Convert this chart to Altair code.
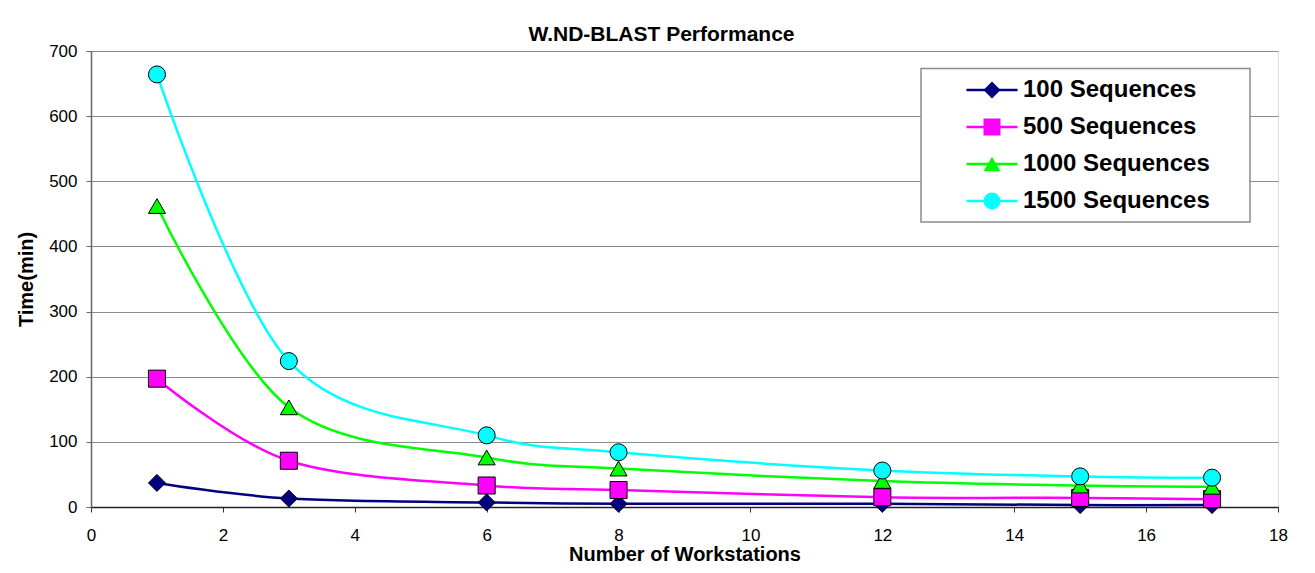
import altair as alt
import pandas as pd

# ---- data ----
workstations = [1, 3, 6, 8, 12, 15, 17]
seq100 = [37, 13, 7, 5, 5, 3, 3]
seq500 = [197, 71, 33, 26, 15, 14, 12]
seq1000 = [462, 153, 76, 59, 40, 33, 31]
seq1500 = [664, 224, 110, 84, 56, 47, 45]
series_names = ["100 Sequences", "500 Sequences", "1000 Sequences", "1500 Sequences"]
series_colors = ["#000080", "#FF00FF", "#00FF00", "#00FFFF"]
series_shapes = ["diamond", "square", "triangle-up", "circle"]
x_ticks = [0, 2, 4, 6, 8, 10, 12, 14, 16, 18]
y_ticks = [0, 100, 200, 300, 400, 500, 600, 700]
chart_title = "W.ND-BLAST Performance"

rows = []
for idx, (name, vals) in enumerate(zip(series_names, [seq100, seq500, seq1000, seq1500])):
    for w, v in zip(workstations, vals):
        rows.append({"Workstations": w, "Time": v, "Series": name, "SeriesIdx": idx})
df = pd.DataFrame(rows)
series_idx = list(range(len(series_names)))

FONT = "Liberation Sans"
W, H = 1187, 456
LX, LY = 889, 27
ROWPAD = 13
LABEL_OFF = 19

x_enc = alt.X(
    "Workstations:Q",
    scale=alt.Scale(domain=[0, 18], nice=False),
    axis=alt.Axis(values=x_ticks, title="Number of Workstations", grid=False,
                  labelFont=FONT, labelFontSize=17, labelColor="black", labelPadding=15,
                  tickSize=5, tickColor="#333333", domainColor="#222222", domainWidth=1.5,
                  titleFont=FONT, titleFontSize=20, titleFontWeight="bold", titleColor="black",
                  titlePadding=1, labelFlush=False),
)
y_enc = alt.Y(
    "Time:Q",
    scale=alt.Scale(domain=[0, 700], nice=False),
    axis=alt.Axis(values=y_ticks, title="Time(min)", grid=True, gridColor="#8c8c8c", gridWidth=1,
                  labelFont=FONT, labelFontSize=17, labelColor="black", labelPadding=9,
                  tickSize=5, tickColor="#666666", domainColor="#666666", domainWidth=1.5,
                  titleFont=FONT, titleFontSize=20, titleFontWeight="bold", titleColor="black",
                  titlePadding=12, labelFlush=False),
)

common_legend = dict(orient="none", legendX=LX, legendY=LY, title=None, symbolSize=290,
                     labelFont=FONT, labelFontSize=24, labelFontWeight="bold", labelColor="black",
                     labelLimit=400, rowPadding=ROWPAD, labelOffset=LABEL_OFF, padding=0)

line_legend = alt.Legend(symbolType="M-3,0H3", symbolStrokeWidth=2.5, labelExpr="''",
                         zindex=1, **common_legend)
marker_legend = alt.Legend(symbolStrokeColor="black", symbolStrokeWidth=1, symbolOpacity=1,
                           zindex=2, **common_legend)

one_row = alt.Data(values=[{"k": 1}])

outer_border = alt.Chart(one_row).mark_rect(fill="white", fillOpacity=0, stroke="#9a9a9a",
                                             strokeWidth=1.5).encode(
    x=alt.value(-86), x2=alt.value(1400), y=alt.value(-46), y2=alt.value(700)
)

legend_box = alt.Chart(one_row).mark_rect(fill="white", stroke="#8c8c8c", strokeWidth=1.5).encode(
    x=alt.value(830), x2=alt.value(1159), y=alt.value(17.6), y2=alt.value(171)
)

title_text = alt.Chart(one_row).mark_text(text=chart_title, font=FONT, fontSize=21, fontWeight="bold",
                                          align="center", baseline="alphabetic", color="black").encode(
    x=alt.value(570.5), y=alt.value(-10)
)

lines = alt.Chart(df).mark_line(interpolate="cardinal", strokeWidth=2.5).encode(
    x=x_enc, y=y_enc,
    color=alt.Color("SeriesIdx:N", scale=alt.Scale(domain=series_idx, range=series_colors),
                    legend=line_legend),
)

points = alt.Chart(df).mark_point(filled=True, size=290, stroke="black", strokeWidth=1, opacity=1).encode(
    x=x_enc, y=y_enc,
    fill=alt.Fill("Series:N", scale=alt.Scale(domain=series_names, range=series_colors),
                  legend=marker_legend),
    shape=alt.Shape("Series:N", scale=alt.Scale(domain=series_names, range=series_shapes),
                    legend=marker_legend),
)

chart = alt.layer(outer_border, legend_box, lines, points, title_text).properties(
    width=W, height=H,
    autosize=alt.AutoSizeParams(type="none"),
    padding={"left": 83, "top": 43, "right": 20, "bottom": 60},
).configure_view(stroke="#808080", strokeWidth=1.5).configure(background="white")

chart.save("out.html", embed_options={"renderer": "svg", "actions": False})
